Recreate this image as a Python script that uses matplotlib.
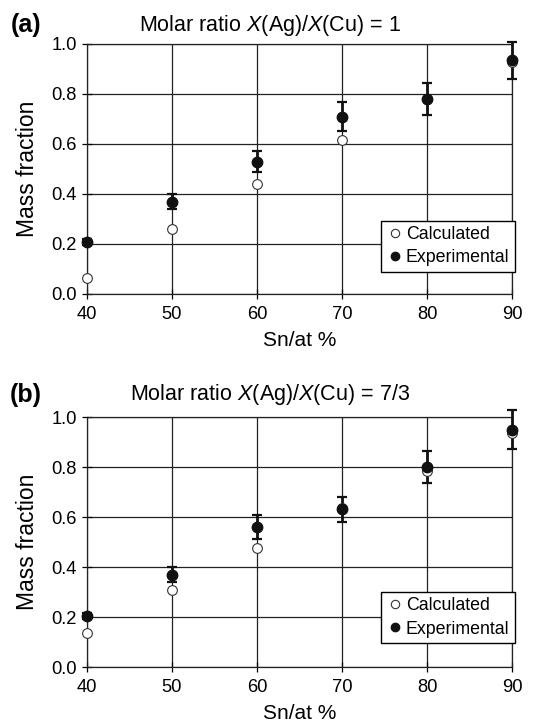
import matplotlib
matplotlib.use("Agg")
import matplotlib.pyplot as plt
from matplotlib.lines import Line2D

plt.rcParams['font.family'] = ['Liberation Sans', 'DejaVu Sans']
plt.rcParams['mathtext.fontset'] = 'custom'
plt.rcParams['mathtext.it'] = 'Liberation Sans:italic'
plt.rcParams['mathtext.rm'] = 'Liberation Sans'

sn = [40, 50, 60, 70, 80, 90]

# panel (a): X(Ag)/X(Cu) = 1
calc_a = [0.065, 0.26, 0.44, 0.615, 0.78, 0.93]
exp_a = [0.21, 0.37, 0.53, 0.71, 0.78, 0.935]
err_a = [0.012, 0.03, 0.043, 0.057, 0.063, 0.075]

# panel (b): X(Ag)/X(Cu) = 7/3
calc_b = [0.135, 0.31, 0.475, 0.635, 0.785, 0.935]
exp_b = [0.205, 0.37, 0.56, 0.632, 0.80, 0.95]
err_b = [0.012, 0.03, 0.047, 0.05, 0.065, 0.077]

titles = ["Molar ratio $\\it{X}$(Ag)/$\\it{X}$(Cu) = 1",
          "Molar ratio $\\it{X}$(Ag)/$\\it{X}$(Cu) = 7/3"]
tags = ["(a)", "(b)"]
xticks = [40, 50, 60, 70, 80, 90]
yticks = [0.0, 0.2, 0.4, 0.6, 0.8, 1.0]

fig = plt.figure(figsize=(5.4, 7.26), dpi=100)
W, H = 540, 726
# pixel boxes: left, top, right, bottom
boxes = [(87, 44, 512, 294), (87, 417, 512, 667)]
leg_y = [0.09, 0.096]
title_y = [25, 394]
tag_y = [25, 395]

data = [(calc_a, exp_a, err_a), (calc_b, exp_b, err_b)]
for k, (l, t, r, b) in enumerate(boxes):
    ax = fig.add_axes([l / W, 1 - b / H, (r - l) / W, (b - t) / H])
    calc, exp, err = data[k]
    ax.set_xlim(40, 90)
    ax.set_ylim(0, 1.0)
    ax.set_xticks(xticks)
    ax.set_yticks(yticks)
    ax.set_yticklabels([f"{v:.1f}" for v in yticks])
    ax.grid(True, color="#222222", linewidth=0.9)
    ax.set_axisbelow(True)
    for s in ax.spines.values():
        s.set_linewidth(0.9)
        s.set_color("#222222")
    ax.tick_params(direction="inout", length=7, width=0.9, labelsize=13.2)
    ax.tick_params(axis="x", pad=5)
    ax.tick_params(axis="y", pad=4)

    ax.errorbar(sn, exp, yerr=err, fmt="none", ecolor="#111111", elinewidth=2.0,
                capsize=3.5, capthick=1.6, clip_on=False, zorder=3)
    ax.plot(sn, calc, linestyle="none", marker="o", markersize=7,
            markerfacecolor="white", markeredgecolor="#333333",
            markeredgewidth=0.8, clip_on=False, zorder=4)
    ax.plot(sn, exp, linestyle="none", marker="o", markersize=7.5,
            color="#111111", clip_on=False, zorder=5)

    ax.set_xlabel("Sn/at %", fontsize=15, labelpad=6)
    ax.set_ylabel("Mass fraction", fontsize=16.5, labelpad=9)

    handles = [Line2D([], [], linestyle="none", marker="o", markersize=6,
                      markerfacecolor="white", markeredgecolor="#333333",
                      markeredgewidth=0.8, label="Calculated"),
               Line2D([], [], linestyle="none", marker="o", markersize=6,
                      color="#111111", label="Experimental")]
    leg = ax.legend(handles=handles, loc="lower left",
                    bbox_to_anchor=(0.692, leg_y[k], 0.29, 0.2),
                    fontsize=12.8, frameon=True, fancybox=False,
                    edgecolor="black", framealpha=1, borderpad=0.3,
                    handletextpad=0.1, handlelength=1.0, labelspacing=0.35,
                    borderaxespad=0)
    leg.get_frame().set_linewidth(1.0)

    fig.text(270 / W, 1 - title_y[k] / H, titles[k], fontsize=15.5,
             ha="center", va="center")
    fig.text(26 / W, 1 - tag_y[k] / H, tags[k], fontsize=18,
             fontweight="bold", ha="center", va="center")

fig.savefig("out.png", dpi=100)
